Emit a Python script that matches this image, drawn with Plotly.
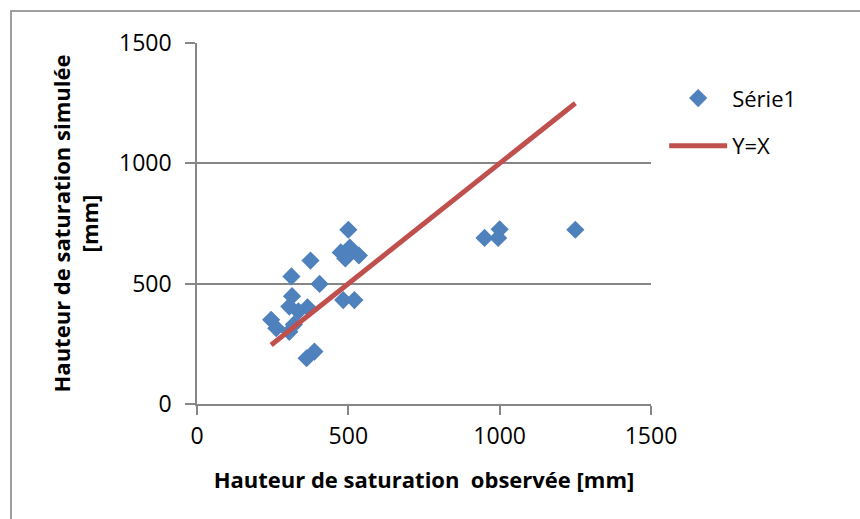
import plotly.graph_objects as go

# Observed (x) vs simulated (y) saturation heights [mm]
observed = [245, 262, 305, 312, 314, 305, 335, 365, 320, 375, 405, 483, 520,
            362, 388, 475, 505, 535, 490, 500, 950, 995, 1000, 1250]
simulated = [350, 315, 300, 530, 448, 405, 385, 402, 330, 596, 499, 432, 432,
             190, 218, 630, 650, 617, 605, 724, 690, 690, 726, 724]

line_x = [245, 1250]
line_y = [245, 1250]

tick_vals = [0, 500, 1000, 1500]
tick_text = ["0", "500", "1000", "1500"]

FONT = "Open Sans"
GRAY = "#868686"

fig = go.Figure()
fig.add_trace(go.Scatter(
    x=observed, y=simulated, mode="markers", name="Série1", legendgroup="a",
    marker=dict(symbol="diamond", size=14, color="#4F81BD"),
))
fig.add_trace(go.Scatter(
    x=line_x, y=line_y, mode="lines", name="Y=X", legendgroup="b",
    line=dict(color="#C0504D", width=5),
))

fig.update_layout(
    width=860, height=519,
    margin=dict(l=197, r=209, t=43, b=115),
    paper_bgcolor="white", plot_bgcolor="white",
    font=dict(family=FONT, size=20, color="black"),
    showlegend=True,
    legend=dict(x=1.029, y=0.905, xanchor="left", yanchor="top",
                font=dict(size=22), itemwidth=58, traceorder="grouped",
                tracegroupgap=16, bgcolor="rgba(0,0,0,0)"),
    xaxis=dict(range=[0, 1500], tickvals=tick_vals, ticktext=tick_text,
               showgrid=False, zeroline=False, showline=True,
               linecolor=GRAY, linewidth=1.5, ticks="outside",
               tickcolor=GRAY, ticklen=9, tickwidth=1.5,
               ticklabelstandoff=2,
               tickfont=dict(size=23, family=FONT),
               title=dict(text="<b>Hauteur de saturation  observée [mm]</b>",
                          font=dict(size=22, family=FONT), standoff=22)),
    yaxis=dict(range=[0, 1500], tickvals=tick_vals, ticktext=tick_text,
               showgrid=True, gridcolor=GRAY, gridwidth=1.5,
               zeroline=False, showline=True,
               linecolor=GRAY, linewidth=1.5, ticks="outside",
               tickcolor=GRAY, ticklen=10, tickwidth=1.5,
               ticklabelstandoff=9,
               tickfont=dict(size=23, family=FONT),
               title=dict(text="<b>Hauteur de saturation simulée<br>[mm]</b>",
                          font=dict(size=22, family=FONT), standoff=14)),
    shapes=[dict(type="rect", xref="paper", yref="paper",
                 x0=-0.4097, x1=1.7, y0=-0.5, y1=1.0886,
                 line=dict(color="#A0A0A0", width=2), layer="below")],
)

fig.write_html("out.html", config={"displayModeBar": False},
               post_script="document.body.style.margin='0';")
